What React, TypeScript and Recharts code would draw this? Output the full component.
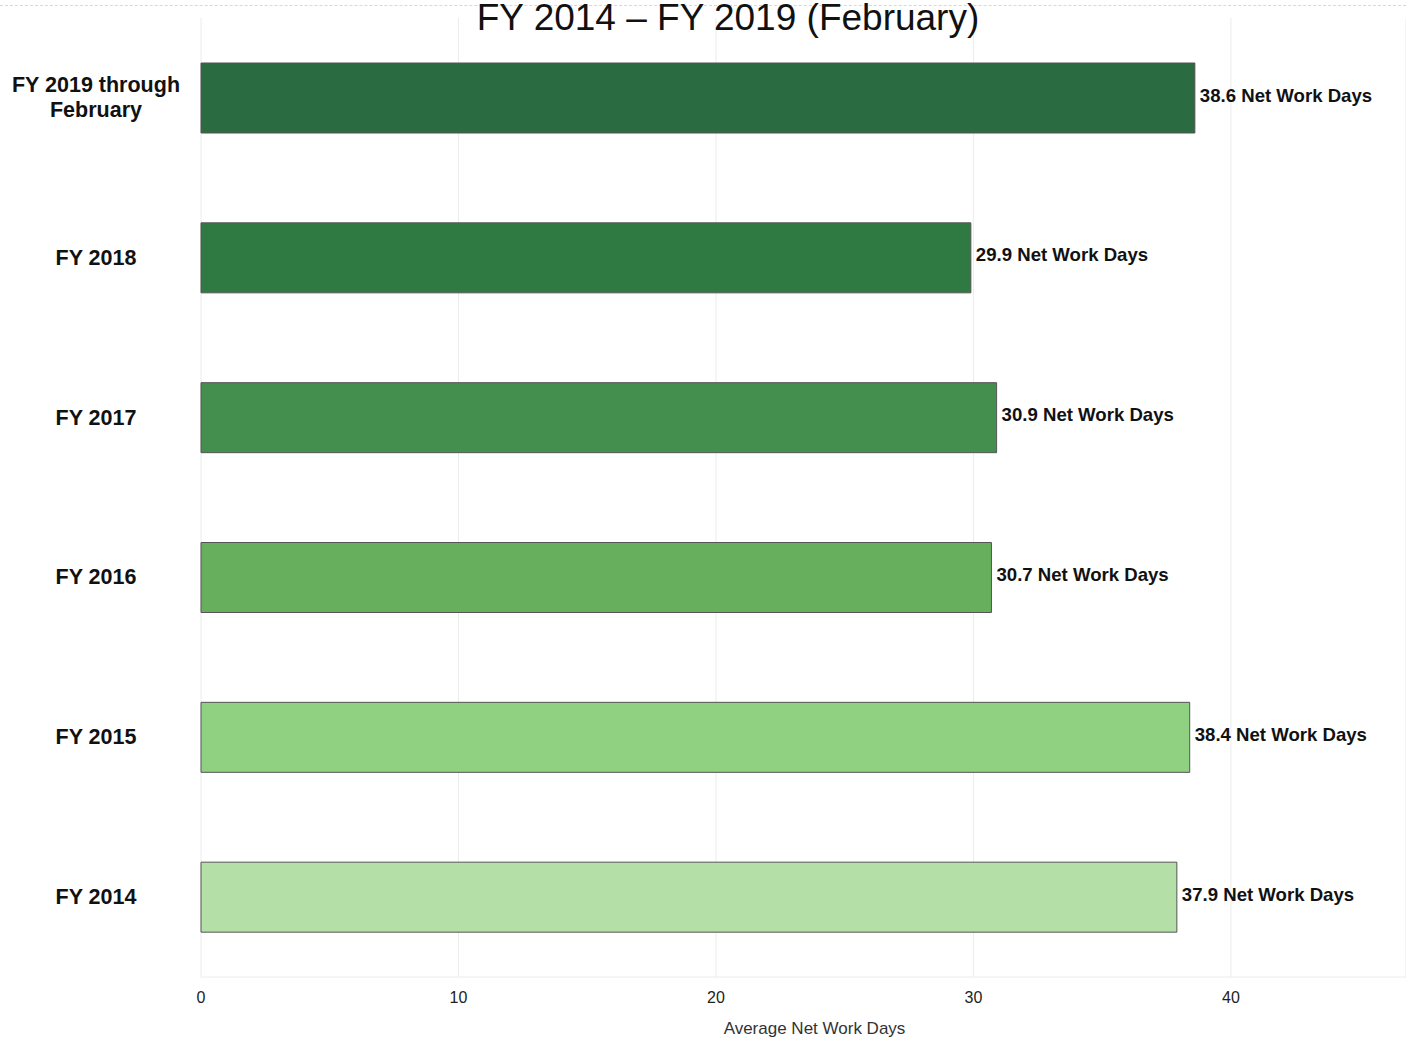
import { BarChart, Bar, XAxis, YAxis, CartesianGrid, Cell, LabelList } from 'recharts';

const categories = ['FY 2019 through\nFebruary', 'FY 2018', 'FY 2017', 'FY 2016', 'FY 2015', 'FY 2014'];
const netWorkDays = [38.6, 29.9, 30.9, 30.7, 38.4, 37.9];
const barColors = ['#2a6b42', '#2f7a43', '#448f4e', '#67ae5d', '#8fd081', '#b4dfa6'];
const xTicks = [0, 10, 20, 30, 40];

const data = categories.map((c, i) => ({ cat: c, v: netWorkDays[i] }));

const arial = '"Liberation Sans", Arial, sans-serif';

function CatTick(props: any) {
  const { y, payload } = props;
  const lines = String(payload.value).split('\n');
  const lh = 25;
  const y0 = y - ((lines.length - 1) * lh) / 2;
  return (
    <text x={96} y={y0} textAnchor="middle" dominantBaseline="central" fontFamily={arial} fontWeight="bold" fontSize={21.5} fill="#111">
      {lines.map((l, i) => <tspan key={i} x={96} y={y0 + i * lh}>{l}</tspan>)}
    </text>
  );
}

export default function App() {
  return (
    <div style={{ position: 'absolute', left: 0, top: 0, width: 1406, height: 1040, background: '#fff' }}>
      <div style={{ position: 'absolute', left: 0, top: 5, width: 1406, borderTop: '1px dashed #d8d8d8' }} />
      <BarChart layout="vertical" width={1406} height={1040} data={data} margin={{ top: 18, right: 0, left: 0, bottom: 0 }} barCategoryGap={45}>
        <CartesianGrid horizontal={false} stroke="#ececec" />
        <XAxis type="number" domain={[0, 46.8]} ticks={xTicks} height={63} axisLine={{ stroke: '#ececec' }} tickLine={false}
          tick={{ fontFamily: arial, fontSize: 16, fill: '#222' }} tickMargin={9}
          label={{ value: 'Average Net Work Days', position: 'insideBottom', offset: 6, dx: 11, fontFamily: arial, fontSize: 17, fill: '#333' }} />
        <YAxis type="category" dataKey="cat" width={201} axisLine={false} tickLine={false} tick={<CatTick />} />
        <Bar dataKey="v" stroke="#555" strokeWidth={1} isAnimationActive={false}>
          {data.map((d, i) => <Cell key={d.cat} fill={barColors[i]} />)}
          <LabelList dataKey="v" position="right" offset={5} dy={-3} formatter={(v: any) => `${v} Net Work Days`}
            style={{ fontFamily: arial, fontWeight: 'bold', fontSize: 18.6, fill: '#111' }} />
        </Bar>
      </BarChart>
      <div style={{ position: 'absolute', left: 0, top: -3, width: 1456, textAlign: 'center', fontFamily: arial, fontSize: 37, color: '#111', lineHeight: '42px' }}>
        FY 2014 – FY 2019 (February)
      </div>
    </div>
  );
}
